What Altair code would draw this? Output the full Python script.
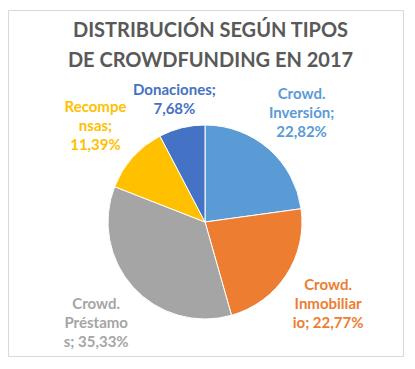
import altair as alt
import pandas as pd

categories = ["Crowd. Inversión", "Crowd. Inmobiliario", "Crowd. Préstamos", "Recompensas", "Donaciones"]
values = [22.82, 22.77, 35.33, 11.39, 7.68]
labels = [
    "Crowd.\nInversión;\n22,82%",
    "Crowd.\nInmobiliar\nio; 22,77%",
    "Crowd.\nPréstamo\ns; 35,33%",
    "Recompe\nnsas;\n11,39%",
    "Donaciones;\n7,68%",
]
colors = ["#5B9BD5", "#ED7D31", "#A5A5A5", "#FFC000", "#4472C4"]
title_lines = ["DISTRIBUCIÓN SEGÚN TIPOS", "DE CROWDFUNDING EN 2017"]

df = pd.DataFrame({
    "category": categories,
    "value": values,
    "label": labels,
    "order": list(range(len(categories))),
})

color = alt.Color("category:N", scale=alt.Scale(domain=categories, range=colors), legend=None)
theta = alt.Theta("value:Q", stack=True)
order = alt.Order("order:Q")

cx, cy = 197, 212

base = alt.Chart(df).encode(theta=theta, color=color, order=order,
                            x=alt.value(cx), y=alt.value(cy))

pie = base.mark_arc(outerRadius=97, stroke="white", strokeWidth=1)

text_style = dict(font="Lato", fontSize=15, fontWeight="bold", lineBreak="\n",
                  lineHeight=19, align="center", baseline="middle")

text_outer = base.transform_calculate(
    t="datum.category == 'Donaciones' ? '' : datum.label"
).mark_text(radius=147, dy=-17, **text_style).encode(text="t:N")

text_inner = base.transform_calculate(
    t="datum.category == 'Donaciones' ? datum.label : ''"
).mark_text(radius=128, dy=-8, **text_style).encode(text="t:N")

chart = alt.layer(pie, text_outer, text_inner).properties(
    width=395, height=346,
    autosize=alt.AutoSizeParams(type="none"),
    padding={"left": 0, "top": 2, "right": 2, "bottom": 2},
    background="white",
    title=alt.TitleParams(
        title_lines, font="Lato", fontSize=20, fontWeight="bold", color="#595959",
        anchor="middle", baseline="top", offset=-61, lineHeight=30, dx=5,
    ),
).configure_view(stroke="#d9d9d9", strokeWidth=1)

chart.save("out.html", embed_options={"renderer": "svg", "actions": False})
